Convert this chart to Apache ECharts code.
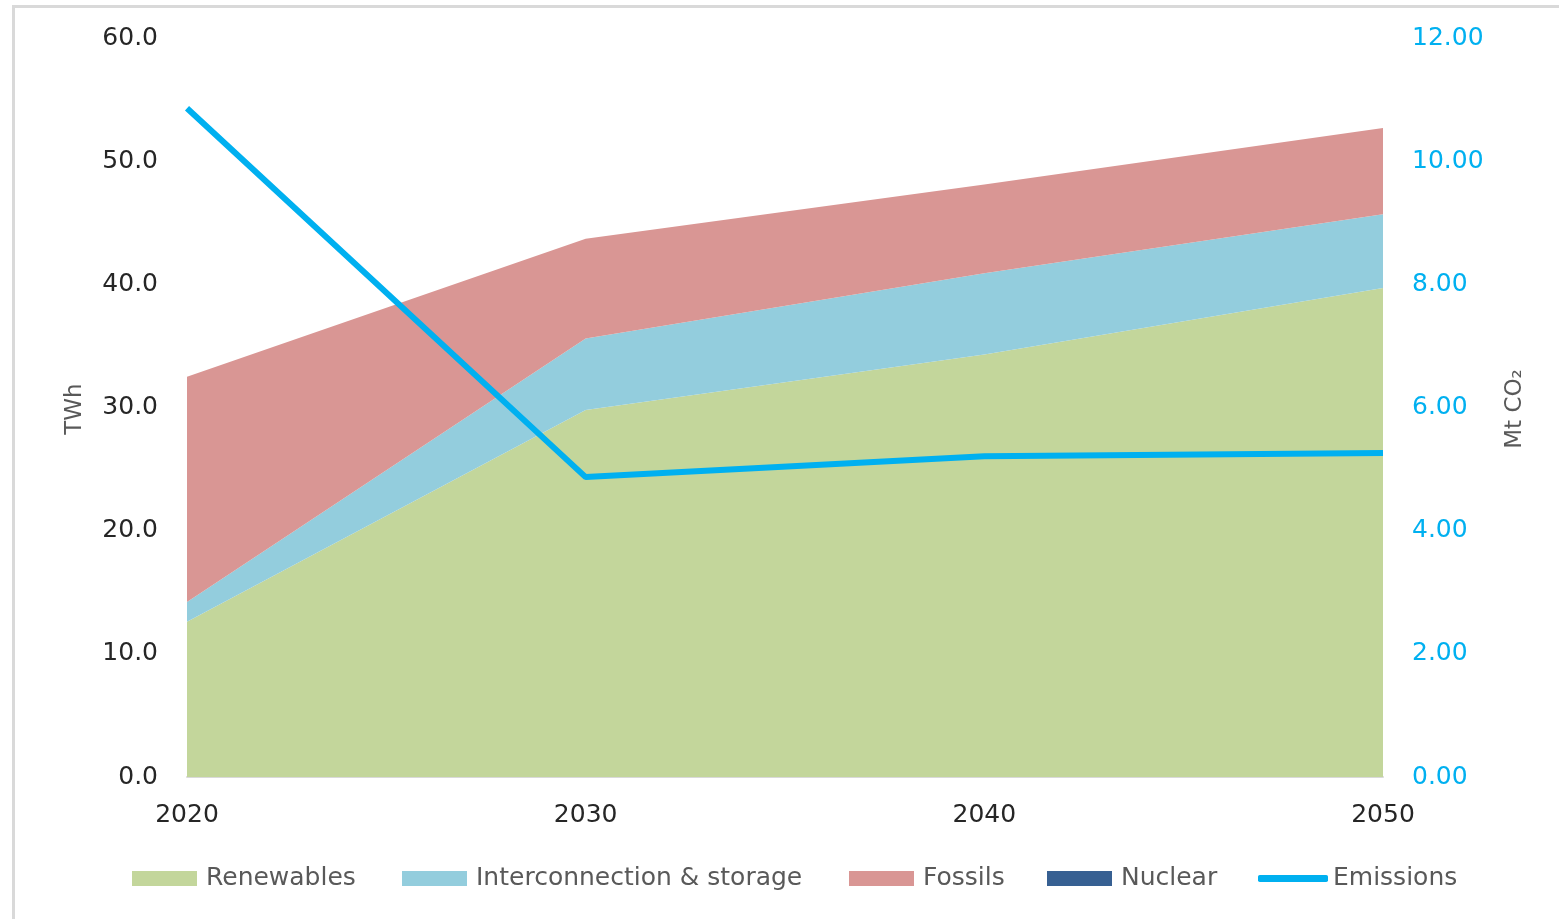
<!DOCTYPE html>
<html>
<head>
<meta charset="utf-8">
<script src="https://cdn.jsdelivr.net/npm/echarts@6/dist/echarts.min.js"></script>
<style>
html,body{margin:0;padding:0;background:#fff;}
#chart{width:1559px;height:919px;}
</style>
</head>
<body>
<div id="chart"></div>
<script>
const years = ['2020', '2030', '2040', '2050'];
const renewables = [12.6, 29.8, 34.3, 39.7];
const interconnection = [1.6, 5.8, 6.6, 6.0];
const fossils = [18.3, 8.1, 7.2, 7.0];
const nuclear = [0, 0, 0, 0];
const emissions = [10.86, 4.87, 5.21, 5.26];

const FONT = 'DejaVu Sans';
const chart = echarts.init(document.getElementById('chart'));

function areaSeries(name, data, color) {
  return {
    name: name, type: 'line', stack: 'total', data: data,
    color: color,
    showSymbol: false, symbol: 'none',
    lineStyle: { width: 0, color: color },
    areaStyle: { color: color, opacity: 1 },
    itemStyle: { color: color },
    z: 2
  };
}

function legendAt(name, left, icon, w, h, pad) {
  return {
    data: [name], left: left, top: 866, padding: 0, itemGap: 0,
    icon: icon, itemWidth: w, itemHeight: h,
    textStyle: { fontFamily: FONT, fontSize: 25, color: '#595959', padding: [0, 0, 0, pad] }
  };
}

chart.setOption({
  animation: false,
  backgroundColor: '#fff',
  grid: { left: 187, right: 176, top: 38, bottom: 142, containLabel: false },
  legend: [
    legendAt('Renewables', 132, 'rect', 65, 15, 4),
    legendAt('Interconnection & storage', 402, 'rect', 65, 15, 4),
    legendAt('Fossils', 849, 'rect', 65, 15, 4),
    legendAt('Nuclear', 1047, 'rect', 65, 15, 4),
    legendAt('Emissions', 1258, 'roundRect', 70, 7, 0)
  ],
  xAxis: {
    type: 'category', data: years, boundaryGap: false,
    axisLine: { show: true, lineStyle: { color: '#D9D9D9', width: 2 } },
    axisTick: { show: false },
    splitLine: { show: false },
    axisLabel: { fontFamily: FONT, fontSize: 25, color: '#262626', margin: 26 }
  },
  yAxis: [
    {
      type: 'value', min: 0, max: 60, interval: 10,
      axisLine: { show: false }, axisTick: { show: false }, splitLine: { show: false },
      axisLabel: { fontFamily: FONT, fontSize: 25, color: '#262626', margin: 29,
        padding: [4, 0, 0, 0], formatter: v => v.toFixed(1) }
    },
    {
      type: 'value', min: 0, max: 12, interval: 2,
      axisLine: { show: false }, axisTick: { show: false }, splitLine: { show: false },
      axisLabel: { fontFamily: FONT, fontSize: 25, color: '#00B0F0', margin: 29,
        padding: [4, 0, 0, 0], formatter: v => v.toFixed(2) }
    }
  ],
  graphic: [
    { type: 'rect', left: 11, top: 4, silent: true, z: -10,
      shape: { x: 0, y: 0, width: 1600, height: 1000 },
      style: { fill: 'none', stroke: '#D9D9D9', lineWidth: 3 } },
    { type: 'text', x: 75, y: 409, rotation: Math.PI / 2,
      style: { text: 'TWh', fontFamily: FONT, fontSize: 23, fill: '#595959',
        textAlign: 'center', textVerticalAlign: 'middle' } },
    { type: 'text', x: 1515, y: 409, rotation: Math.PI / 2,
      style: { text: 'Mt CO₂', fontFamily: FONT, fontSize: 23, fill: '#595959',
        textAlign: 'center', textVerticalAlign: 'middle' } }
  ],
  series: [
    areaSeries('Renewables', renewables, '#C3D69B'),
    areaSeries('Interconnection & storage', interconnection, '#93CDDD'),
    areaSeries('Fossils', fossils, '#D99694'),
    areaSeries('Nuclear', nuclear, '#376092'),
    {
      name: 'Emissions', type: 'line', yAxisIndex: 1, data: emissions,
      color: '#00B0F0', showSymbol: false, symbol: 'none',
      lineStyle: { width: 6, color: '#00B0F0' },
      itemStyle: { color: '#00B0F0' },
      z: 5
    }
  ]
});
</script>
</body>
</html>
